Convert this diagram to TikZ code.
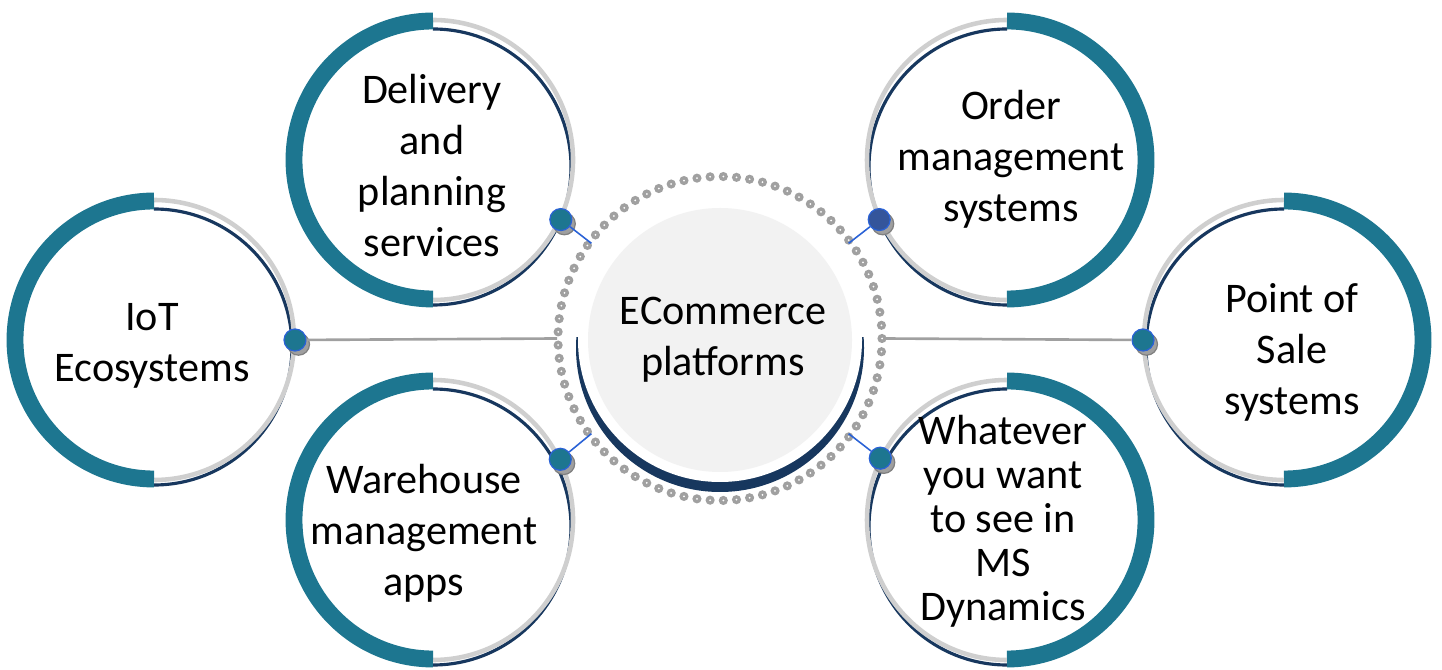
\documentclass[tikz,border=0pt]{standalone}
\usepackage{fontspec}
\setmainfont{Carlito}
\usetikzlibrary{positioning,shadows}
\definecolor{canard}{HTML}{1D7690}
\definecolor{marine}{HTML}{17375E}
\definecolor{grisclair}{HTML}{CFCFCF}
\definecolor{grisfond}{HTML}{F2F2F2}
\definecolor{grispoint}{HTML}{A0A0A0}
\definecolor{bleulien}{HTML}{2A62D6}
\definecolor{bleuroi}{HTML}{34559B}
\tikzstyle{trait} = [-,line width=1.5pt,color=grispoint]
\tikzstyle{lien} = [-,line width=0.9pt,color=bleulien]
\tikzstyle{bande} = [line width=9.6pt,color=canard]
\tikzstyle{reflet} = [line width=2.6pt,color=grisclair]
\tikzstyle{contour} = [line width=1.8pt,color=marine]
\tikzstyle{texte} = [align=center,inner sep=0pt,font=\fontsize{24}{29}\selectfont]
\tikzstyle{pastille} = [circle,draw=bleulien,fill=canard,line width=0.7pt,minimum size=12.5pt,inner sep=0pt,
	drop shadow={shadow xshift=2pt,shadow yshift=-2.4pt,fill=gray!75,draw=gray,opacity=1}]
\newcommand{\bulleG}[1]{%
	\draw[contour] ([shift={(0,-7)}]#1) ++(90:138) arc[start angle=90,end angle=-90,radius=138];
	\draw[reflet] (#1) ++(90:140) arc[start angle=90,end angle=-90,radius=140];
	\draw[bande] (#1) ++(90:139) arc[start angle=90,end angle=270,radius=139];}
\newcommand{\bulleD}[1]{%
	\draw[contour] ([shift={(0,-7)}]#1) ++(90:138) arc[start angle=90,end angle=270,radius=138];
	\draw[reflet] (#1) ++(90:140) arc[start angle=90,end angle=270,radius=140];
	\draw[bande] (#1) ++(90:139) arc[start angle=90,end angle=-90,radius=139];}

\begin{document}
\begin{tikzpicture}[x=0.02cm,y=0.02cm]

	\useasboundingbox (0,0) rectangle (1442,669);

	\coordinate (cIoT) at (154,329);
	\coordinate (cDel) at (433,509);
	\coordinate (cWare) at (433,149);
	\coordinate (cOrder) at (1007,509);
	\coordinate (cWhat) at (1007,149);
	\coordinate (cPoS) at (1284,329);
	\coordinate (cECom) at (720,329);

	%% Bulles
	\bulleG{cIoT}
	\bulleG{cDel}
	\bulleG{cWare}
	\bulleD{cOrder}
	\bulleD{cWhat}
	\bulleD{cPoS}

	%% Cercle central
	\begin{scope}
		\clip (560,331) rectangle (880,160);
		\fill[marine] (720,321) circle (144);
	\end{scope}
	\fill[white] (cECom) circle (142);
	\fill[grisfond] (cECom) circle (132);

	\foreach \i in {0,...,76}{
		\fill[grispoint] (720,330.5) ++(\i*4.6753:162) circle (4.6);
		\fill[white] (720,330.5) ++(\i*4.6753:162) circle (1);
	}

	\node[texte] (ECom) at (723,329.5) {ECommerce\\platforms};

	\node[texte] (IoT) at (152,323) {IoT\\Ecosystems};
	\node[texte] (Del) at (432,503.5) {Delivery\\and\\planning\\services};
	\node[texte] (Ware) at (424,136) {Warehouse\\management\\apps};
	\node[texte] (Order) at (1011,510) {Order\\management\\systems};
	\node[texte] (PoS) at (1292,316.5) {Point of\\Sale\\systems};
	\node[texte,font=\fontsize{24}{25}\selectfont] (What) at (1003,148) {Whatever\\you want\\to see in\\MS\\Dynamics};

	%% Pastilles
	\node[pastille] (pIoT) at ([shift={(0:141)}]cIoT) {};
	\node[pastille] (pDel) at ([shift={(-25:141)}]cDel) {};
	\node[pastille] (pWare) at ([shift={(25.5:141)}]cWare) {};
	\node[pastille,fill=bleuroi] (pOrder) at ([shift={(205:141)}]cOrder) {};
	\node[pastille] (pWhat) at ([shift={(154:141)}]cWhat) {};
	\node[pastille] (pPoS) at ([shift={(180:141)}]cPoS) {};

	%% Liens
	\coordinate (aIoT) at ([shift={(180:163)}]720,330.5);
	\coordinate (aPoS) at ([shift={(0:163)}]720,330.5);
	\coordinate (aDel) at ([shift={(143.5:160)}]720,330.5);
	\coordinate (aWare) at ([shift={(216.5:160)}]720,330.5);
	\coordinate (aOrder) at ([shift={(36.5:160)}]720,330.5);
	\coordinate (aWhat) at ([shift={(-36.5:160)}]720,330.5);

	\draw[trait] (pIoT) -- (aIoT);
	\draw[trait] (pPoS) -- (aPoS);
	\draw[lien] (pDel) -- (aDel);
	\draw[lien] (pWare) -- (aWare);
	\draw[lien] (pOrder) -- (aOrder);
	\draw[lien] (pWhat) -- (aWhat);

\end{tikzpicture}
\end{document}
